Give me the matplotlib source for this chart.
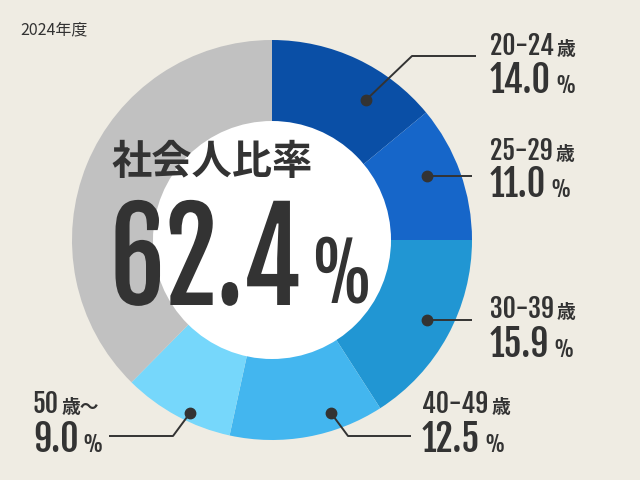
import matplotlib
matplotlib.use('Agg')
import matplotlib.pyplot as plt
from matplotlib.patches import Circle
from matplotlib.patheffects import AbstractPathEffect
from matplotlib.transforms import Affine2D

# 年代別の社会人比率（2024年度）
age_labels = ['20-24', '25-29', '30-39', '40-49', '50']
age_suffix = ['歳', '歳', '歳', '歳', '歳〜']
shares = [14.0, 11.0, 15.9, 12.5, 9.0]
total_share = 62.4
year_label = '2024年度'
title = '社会人比率'

colors = ['#0a4fa6', '#1666c9', '#2196d3', '#43b6ef', '#76d7fb']
rest_color = '#c1c1c1'
bg = '#efece3'
ink = '#333333'
num_font = 'Fjalla One'
jp_font = ['Noto Sans CJK JP', 'DejaVu Sans']

# レイアウト（ピクセル座標、左上原点）
cx, cy, r_out, r_in = 272, 240, 200, 119
leaders = [
    [(366, 100), (412, 56), (476, 56)],
    [(427, 176), (472, 176)],
    [(427, 320), (472, 320)],
    [(331, 413), (348, 436), (411, 436)],
    [(190, 413), (173, 436), (109, 436)],
]
label_pos = [(490, 55, 93), (490, 160, 197), (490, 318, 357), (422, 413, 452), (33, 413, 452)]
SQUEEZE = 0.87  # 中央の大きい数字の横幅


class Condense(AbstractPathEffect):
    """文字の輪郭を左端基準で横方向に縮める"""

    def __init__(self, sx):
        super().__init__()
        self.sx = sx

    def draw_path(self, renderer, gc, tpath, affine, rgbFace=None):
        renderer.draw_path(gc, tpath, Affine2D().scale(self.sx, 1) + affine, rgbFace)


fig = plt.figure(figsize=(6.4, 4.8), dpi=100, facecolor=bg)
ax = fig.add_axes([0, 0, 1, 1])
ax.set_facecolor(bg)

rest = 100 - sum(shares)
ax.pie(shares + [rest], colors=colors + [rest_color], center=(cx, cy), radius=r_out,
       startangle=-90, counterclock=True, wedgeprops=dict(linewidth=0))
ax.add_patch(Circle((cx, cy), r_in, facecolor='white', edgecolor='none', zorder=3))
ax.set_xlim(0, 640)
ax.set_ylim(480, 0)  # y 軸は下向き
ax.set_aspect('equal')
ax.axis('off')

for pts in leaders:
    xs, ys = zip(*pts)
    ax.plot(xs, ys, color=ink, lw=1.4, zorder=4, solid_capstyle='butt')
    ax.plot(xs[0], ys[0], 'o', color=ink, ms=7.5, zorder=5)

ax.text(20, 34, year_label, fontsize=11.5, color=ink, family=jp_font, va='baseline')
ax.text(111, 162, title, fontsize=29, color=ink, family=jp_font, weight='bold',
        va='center', zorder=6)
big = ax.text(110, 305, f'{total_share:.1f}', fontsize=90, color=ink, family=num_font,
              va='baseline', zorder=6, path_effects=[Condense(SQUEEZE)])

fig.canvas.draw()
rend = fig.canvas.get_renderer()


def after(t, gap, sx=1.0):
    """テキストの右端から gap ピクセル先の x（データ座標）"""
    bb = t.get_window_extent(rend)
    x1 = bb.x0 + (bb.x1 - bb.x0) * sx
    return ax.transData.inverted().transform((x1 + gap, 0))[0]


ax.text(after(big, 10, SQUEEZE), 303, '%', fontsize=56, color=ink, family=num_font,
        va='baseline', zorder=6, path_effects=[Condense(SQUEEZE)])

for lab, suf, val, (x, y1, y2) in zip(age_labels, age_suffix, shares, label_pos):
    t1 = ax.text(x, y1, lab, fontsize=18.5, color=ink, family=num_font, va='baseline')
    t2 = ax.text(x, y2, f'{val:.1f}', fontsize=26, color=ink, family=num_font, va='baseline')
    fig.canvas.draw()
    ax.text(after(t1, 3), y1, suf, fontsize=13.5, color=ink, family=jp_font,
            weight='bold', va='baseline')
    ax.text(after(t2, 4), y2, '%', fontsize=16, color=ink, family=num_font, va='baseline')

fig.savefig('out.png', dpi=100, facecolor=bg)
